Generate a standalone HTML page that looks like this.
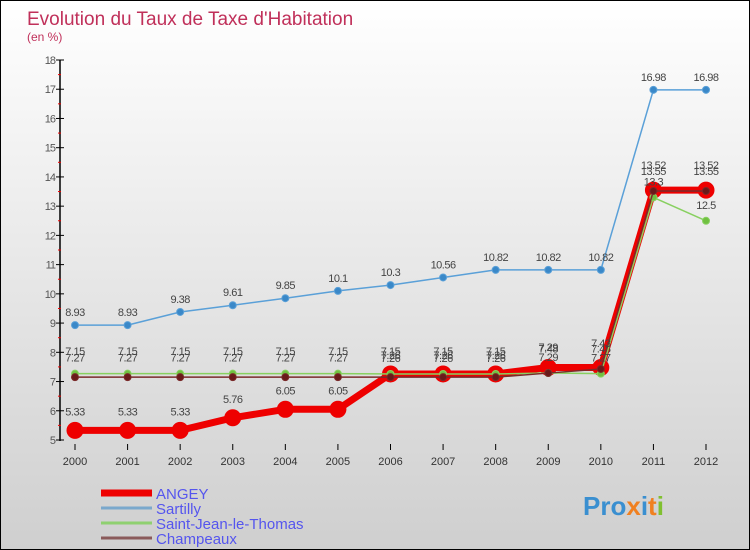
<!DOCTYPE html>
<html><head><meta charset="utf-8">
<style>
html,body{margin:0;padding:0}
body{width:750px;height:550px;overflow:hidden;font-family:"Liberation Sans",sans-serif}
#wrap{position:relative;width:748px;height:548px;border:1px solid #000;background:linear-gradient(#ffffff,#cfcfcf)}
</style></head>
<body>
<div id="wrap">
<svg id="chart" width="748" height="548" style="position:absolute;left:0;top:0">
<text x="26" y="24" font-size="19" fill="#c0305a">Evolution du Taux de Taxe d'Habitation</text>
<text x="26" y="40" font-size="12" fill="#c0305a">(en %)</text>
<g id="axes"></g>
<g id="series"></g>
<g id="legend"></g>
<text x="582" y="514" font-size="26" font-weight="bold" fill="#3a8fd0">Pro<tspan fill="#f08020">x</tspan><tspan fill="#3a8fd0">i</tspan><tspan fill="#f08020">t</tspan><tspan fill="#80c030">i</tspan></text>
</svg>
</div>
<script>
const years = [2000,2001,2002,2003,2004,2005,2006,2007,2008,2009,2010,2011,2012];
const yTicks = [5,6,7,8,9,10,11,12,13,14,15,16,17,18];
const angey = [5.33,5.33,5.33,5.76,6.05,6.05,7.26,7.26,7.26,7.48,7.48,13.55,13.55];
const sartilly = [8.93,8.93,9.38,9.61,9.85,10.1,10.3,10.56,10.82,10.82,10.82,16.98,16.98];
const saintJean = [7.27,7.27,7.27,7.27,7.27,7.27,7.26,7.26,7.26,7.29,7.27,13.3,12.5];
const champeaux = [7.15,7.15,7.15,7.15,7.15,7.15,7.15,7.15,7.15,7.29,7.43,13.52,13.52];
const seriesNames = ["ANGEY","Sartilly","Saint-Jean-le-Thomas","Champeaux"];

const NS="http://www.w3.org/2000/svg";
const xPos = i => 74 + i*(705-74)/(years.length-1);
const yPos = v => 439 - (v-5)*(439-59)/13;
function mk(tag, attrs, parent){const e=document.createElementNS(NS,tag);for(const k in attrs)e.setAttribute(k,attrs[k]);parent.appendChild(e);return e;}
const axes=document.getElementById('axes');
let ax=mk('line',{x1:59,y1:59,x2:59,y2:440,stroke:'#000','stroke-width':1.5},axes);


let xa=mk('line',{x1:59,y1:440,x2:706,y2:440,stroke:'none'},axes);
yTicks.forEach(v=>{
  const y=yPos(v);
  mk('line',{x1:55,y1:y,x2:63,y2:y,stroke:'#000'},axes);
  if(v<18) mk('line',{x1:57,y1:y-(439-59)/26,x2:60,y2:y-(439-59)/26,stroke:'#e00'},axes);
  const t=mk('text',{x:54,y:y+4,'font-size':11,fill:'#555','text-anchor':'end','letter-spacing':'-1'},axes);
  t.textContent=v;
  
  
});
years.forEach((yr,i)=>{
  const x=xPos(i);
  mk('line',{x1:x,y1:443,x2:x,y2:449,stroke:'#000'},axes);
  const t=mk('text',{x:x,y:464,'font-size':11,fill:'#333','text-anchor':'middle'},axes);
  t.textContent=yr;
  
  
});
const g=document.getElementById('series');
function draw(vals,color,lw,r,dot,name,labelOffset){
  const sg=mk('g',{},g);
  
  
  mk('polyline',{points:vals.map((v,i)=>xPos(i)+','+yPos(v)).join(' '),fill:'none',stroke:color,'stroke-width':lw,'stroke-linejoin':'round'},sg);
  vals.forEach((v,i)=>{
    const c=mk('circle',{cx:xPos(i),cy:yPos(v),r:r,fill:dot,stroke:color,'stroke-width':1},sg);
    
    
    const t=mk('text',{x:xPos(i),y:yPos(v)-labelOffset,'font-size':11,fill:'#444','text-anchor':'middle','letter-spacing':'-0.5'},sg);
    t.textContent=v;
    
    
  });
}
draw(sartilly,'#5aa0d8',1.5,3.5,'#3a88c8','sartilly-series',9);
draw(angey,'#ee0000',7,8,'#ee0000','angey-series',15);
draw(saintJean,'#88d060',1.5,3.5,'#70c040','saint-jean-series',12);
draw(champeaux,'#7a2a2a',1.5,3.5,'#6a1a1a','champeaux-series',22);
const lg=document.getElementById('legend');
const lstyles=[['#ee0000',7],['#7aa8cc',3],['#8fd070',3],['#8a5a5a',3]];
seriesNames.forEach((n,i)=>{
  const y=492+i*15;
  const ln=mk('line',{x1:100,y1:y,x2:151,y2:y,stroke:lstyles[i][0],'stroke-width':lstyles[i][1]},lg);
  
  
  const t=mk('text',{x:155,y:y+6,'font-size':15,fill:'#5555ee'},lg);
  t.textContent=n;
  
  
});
</script>
</body></html>
